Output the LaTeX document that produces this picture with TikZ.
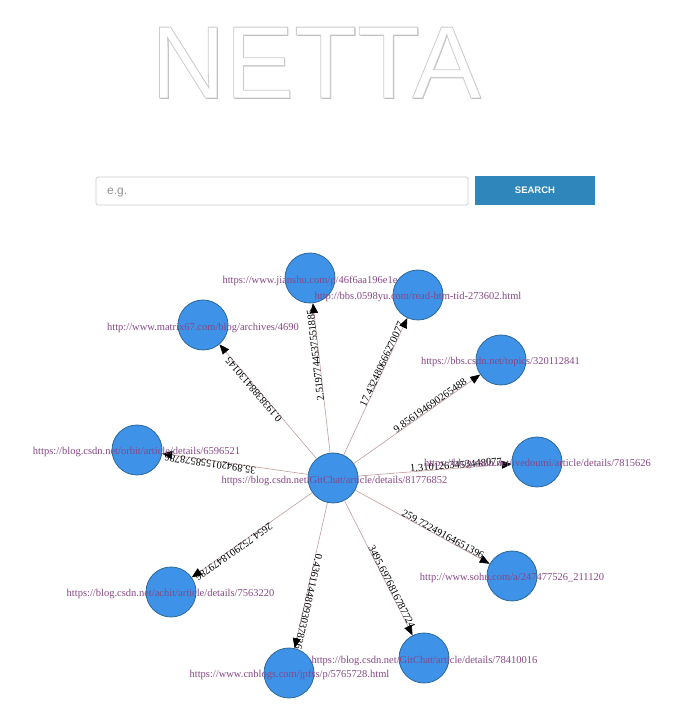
\documentclass[tikz,border=0pt]{standalone}
\usepackage{fontspec}
\setmainfont{Liberation Serif}
\newfontfamily\titlefont{Liberation Sans}
\newfontfamily\uifont{Liberation Sans}
\usetikzlibrary{arrows.meta,calc}
\definecolor{nodefill}{RGB}{62,146,232}
\definecolor{nodedraw}{RGB}{44,104,152}
\definecolor{edgecol}{RGB}{196,158,158}
\definecolor{labcol}{RGB}{135,72,135}
\definecolor{btncol}{RGB}{46,134,186}
\definecolor{boxcol}{RGB}{205,205,205}
\tikzset{
  circ/.style={circle,fill=nodefill,draw=nodedraw,line width=0.8pt,minimum size=50pt,inner sep=0pt},
  edge/.style={draw=edgecol,line width=0.6pt,-{Triangle[length=10pt,width=8pt,color=black]}},
  elabel/.style={font=\fontsize{10.5}{11}\selectfont,text=black,inner sep=0.5pt},
  nlabel/.style={font=\fontsize{10.5}{11}\selectfont,text=labcol,inner sep=0pt},
  ttl/.style={anchor=base,font=\titlefont\fontsize{103}{103}\selectfont,inner sep=0pt}
}
\newcommand\mkedge[2]{%
  \draw[edge] (C) -- (#1);
  \path ($(C)!77pt!(#1)$) -- (#1.center) node[pos=0,sloped,allow upside down,anchor=base west,elabel] {#2};}
\begin{document}
\begin{tikzpicture}[x=1pt,y=1pt]
\useasboundingbox (0,0) rectangle (683,705);
\fill[white] (0,0) rectangle (683,705);
% title
\node[ttl,text=gray!55] (tsh) at (317.4,605) {NETTA};
\node[ttl,text=white] (title) at (316,607) {\special{pdf:literal direct 2 Tr 0.8 w 0.8 G}NETTA\special{pdf:literal direct 0 Tr}};
% search
\draw[boxcol,line width=0.8pt,rounded corners=1.5pt] (96,528) rectangle (468,500);
\node[anchor=west,font=\uifont\fontsize{12}{13}\selectfont,text=gray!85,inner sep=0pt] (ph) at (107,512.5) {e.g.};
\fill[btncol] (475,529) rectangle (595,500);
\node[font=\uifont\bfseries\fontsize{9.5}{10}\selectfont,text=white,inner sep=0pt] (btn) at (535,514.5) {SEARCH};
% nodes
\node[circ] (C) at (333,227) {};
\node[circ] (n1) at (310,427) {};
\node[circ] (n2) at (418,410) {};
\node[circ] (n3) at (203,380) {};
\node[circ] (n4) at (501,345) {};
\node[circ] (n5) at (137,255) {};
\node[circ] (n6) at (537,243) {};
\node[circ] (n7) at (512,129) {};
\node[circ] (n8) at (171,113) {};
\node[circ] (n9) at (424,47) {};
\node[circ] (n10) at (289,32) {};
% edges
\mkedge{n1}{2.5197744537551885}
\mkedge{n2}{17.432480666270077}
\mkedge{n3}{0.19383884130145}
\mkedge{n4}{9.856194690265488}
\mkedge{n5}{35.894201558578786}
\mkedge{n6}{1.3101263453448077}
\mkedge{n7}{259.72249164651396}
\mkedge{n8}{2654.7529018479786}
\mkedge{n9}{3495.6976816787724}
\mkedge{n10}{0.43611448093037826}
% node labels
\node[nlabel] (lC) at (334.5,224) {https://blog.csdn.net/GitChat/article/details/81776852};
\node[nlabel] (l1) at (310,424) {https://www.jianshu.com/p/46f6aa196e1e};
\node[nlabel] (l2) at (418,408) {http://bbs.0598yu.com/read-htm-tid-273602.html};
\node[nlabel] (l3) at (203,377) {http://www.matrix67.com/blog/archives/4690};
\node[nlabel] (l4) at (500.5,343) {https://bbs.csdn.net/topics/320112841};
\node[nlabel] (l5) at (136.5,253) {https://blog.csdn.net/orbit/article/details/6596521};
\node[nlabel] (l6) at (537.5,241) {https://blog.csdn.net/ivedoumi/article/details/7815626};
\node[nlabel] (l7) at (512,127) {http://www.sohu.com/a/247477526\_211120};
\node[nlabel] (l8) at (170.5,111) {https://blog.csdn.net/achit/article/details/7563220};
\node[nlabel] (l9) at (424.5,44) {https://blog.csdn.net/GitChat/article/details/78410016};
\node[nlabel] (l10) at (289.5,30) {https://www.cnblogs.com/jpfss/p/5765728.html};
\end{tikzpicture}
\end{document}
